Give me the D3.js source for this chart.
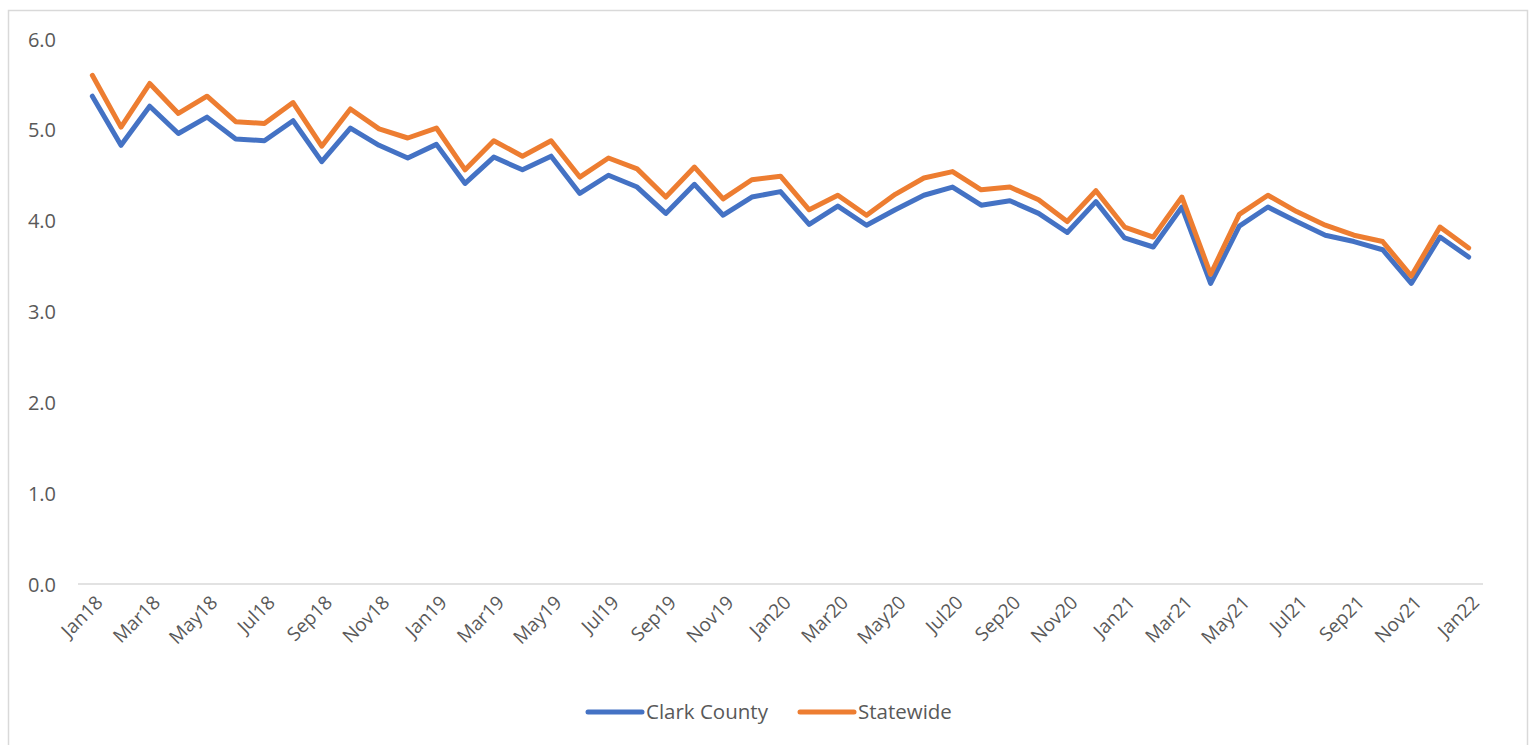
<!DOCTYPE html>
<html>
<head>
<meta charset="utf-8">
<script src="https://cdn.jsdelivr.net/npm/d3@7/dist/d3.min.js"></script>
<style>
  html, body { margin: 0; padding: 0; background: #fff; }
  svg { display: block; font-family: "Open Sans", "Noto Sans", sans-serif; }
</style>
</head>
<body>
<svg id="chart" width="1533" height="745"></svg>
<script>
const months = ["Jan18","Feb18","Mar18","Apr18","May18","Jun18","Jul18","Aug18","Sep18","Oct18","Nov18","Dec18",
  "Jan19","Feb19","Mar19","Apr19","May19","Jun19","Jul19","Aug19","Sep19","Oct19","Nov19","Dec19",
  "Jan20","Feb20","Mar20","Apr20","May20","Jun20","Jul20","Aug20","Sep20","Oct20","Nov20","Dec20",
  "Jan21","Feb21","Mar21","Apr21","May21","Jun21","Jul21","Aug21","Sep21","Oct21","Nov21","Dec21",
  "Jan22"];

const clarkCounty = [5.37,4.83,5.26,4.96,5.14,4.90,4.88,5.10,4.65,5.02,4.83,4.69,
  4.84,4.41,4.70,4.56,4.71,4.30,4.50,4.37,4.08,4.40,4.06,4.26,
  4.32,3.96,4.16,3.95,4.12,4.28,4.37,4.17,4.22,4.08,3.87,4.21,
  3.81,3.71,4.15,3.31,3.94,4.15,3.99,3.84,3.77,3.68,3.31,3.82,
  3.60];

const statewide = [5.60,5.03,5.51,5.18,5.37,5.09,5.07,5.30,4.82,5.23,5.01,4.91,
  5.02,4.56,4.88,4.71,4.88,4.48,4.69,4.57,4.26,4.59,4.24,4.45,
  4.49,4.12,4.28,4.06,4.29,4.47,4.54,4.34,4.37,4.23,3.99,4.33,
  3.93,3.82,4.26,3.41,4.07,4.28,4.10,3.95,3.84,3.77,3.39,3.93,
  3.70];

const yTicks = [0, 1, 2, 3, 4, 5, 6];
const xTickLabels = months.filter((m, i) => i % 2 === 0);

const seriesNames = ["Clark County", "Statewide"];
const seriesColors = ["#4472C4", "#ED7D31"];

const svg = d3.select("#chart");

// outer chart border
svg.append("rect")
  .attr("x", 8.5).attr("y", 10.5)
  .attr("width", 1519).attr("height", 760)
  .attr("fill", "none").attr("stroke", "#d9d9d9").attr("stroke-width", 1.5);

const plotLeft = 78, plotRight = 1483, plotTop = 39, plotBottom = 584;

const x = d3.scaleBand().domain(months).range([plotLeft, plotRight]).padding(0);
const xc = m => x(m) + x.bandwidth() / 2;
const y = d3.scaleLinear().domain([0, 6]).range([plotBottom, plotTop]);

// baseline
svg.append("line")
  .attr("x1", plotLeft).attr("x2", plotRight)
  .attr("y1", y(0)).attr("y2", y(0))
  .attr("stroke", "#d9d9d9").attr("stroke-width", 1.5);

// y axis labels
const yAxis = d3.axisLeft(y).tickValues(yTicks).tickFormat(d3.format(".1f")).tickSize(0).tickPadding(0);
const yg = svg.append("g").attr("transform", `translate(56,0)`).call(yAxis);
yg.select(".domain").remove();
yg.selectAll("text")
  .attr("fill", "#595959")
  .attr("font-size", "20px")
  .attr("font-family", "'Open Sans', sans-serif")
  .attr("dy", "0.35em");

// x axis labels
const xg = svg.append("g");
xg.selectAll("text")
  .data(xTickLabels)
  .join("text")
  .attr("transform", d => `translate(${xc(d) + 7},${plotBottom + 15}) rotate(-45)`)
  .attr("text-anchor", "end")
  .attr("dy", "0.35em")
  .attr("fill", "#595959")
  .attr("font-size", "19px")
  .text(d => d);

// lines
const line = d3.line()
  .x((d, i) => xc(months[i]))
  .y(d => y(d));

[clarkCounty, statewide].forEach((vals, k) => {
  svg.append("path")
    .datum(vals)
    .attr("d", line)
    .attr("fill", "none")
    .attr("stroke", seriesColors[k])
    .attr("stroke-width", 5)
    .attr("stroke-linejoin", "round")
    .attr("stroke-linecap", "round");
});

// legend
const legendItems = [
  { name: seriesNames[0], color: seriesColors[0], x: 588 },
  { name: seriesNames[1], color: seriesColors[1], x: 800 }
];
const lg = svg.append("g");
legendItems.forEach(it => {
  lg.append("line")
    .attr("x1", it.x).attr("x2", it.x + 54)
    .attr("y1", 712).attr("y2", 712)
    .attr("stroke", it.color).attr("stroke-width", 5)
    .attr("stroke-linecap", "round");
  lg.append("text")
    .attr("x", it.x + 58).attr("y", 712)
    .attr("dy", "0.35em")
    .attr("fill", "#595959")
    .attr("font-size", "20.5px")
    .text(it.name);
});
</script>
</body>
</html>
